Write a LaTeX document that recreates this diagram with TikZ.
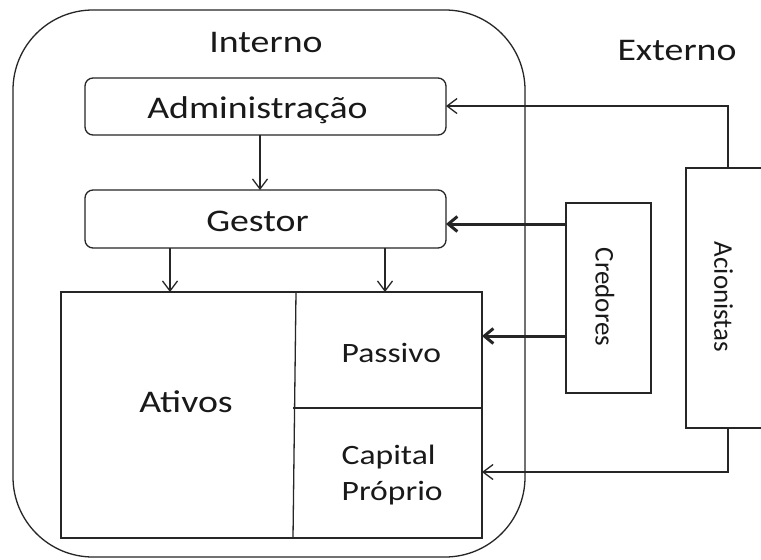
\documentclass[tikz,border=0pt]{standalone}
\usepackage{fontspec}
\setmainfont{Carlito}[FakeStretch=1.2]
\newfontfamily\vertfont{Carlito}
\usetikzlibrary{arrows.meta}
\begin{document}
\begin{tikzpicture}[x=1pt,y=-1pt,
  line width=1.3pt,
  color=black!85,
  box/.style={draw,line width=1.3pt,inner sep=0pt,outer sep=0pt},
  roundbox/.style={box,rounded corners=8pt},
  lbl/.style={inner sep=0pt,anchor=base,text=black!90,font=\fontsize{31.5}{36}\selectfont},
  lblsmall/.style={inner sep=0pt,anchor=base,text=black!90,align=left,font=\fontsize{28}{36}\selectfont},
  lblvert/.style={inner sep=0pt,rotate=-90,text=black!90,font=\vertfont\fontsize{27}{32}\selectfont},
  arr/.style={-{Straight Barb[length=10pt,width=15pt,line width=1.3pt]}},
  thickarr/.style={line width=3pt,-{Straight Barb[length=9pt,width=15pt,line width=3pt]}}]

\useasboundingbox (0,0) rectangle (761,560);
\fill[white] (0,0) rectangle (761,560);

% internal area
\node[box,rounded corners=80pt,minimum width=512pt,minimum height=547pt] (interno) at (269,283.5) {};
\node[lbl] (tinterno) at (266,52) {Interno};
\node[lbl] (texterno) at (677,60) {Externo};

% management boxes
\node[roundbox,minimum width=361pt,minimum height=57pt] (admin) at (265.5,106.5) {};
\node[lbl] (tadmin) at (257.5,118) {Administração};
\node[roundbox,minimum width=361pt,minimum height=58pt] (gestor) at (265.5,219) {};
\node[lbl] (tgestor) at (257.5,231) {Gestor};

% balance sheet
\node[box,minimum width=421pt,minimum height=246pt] (balanco) at (271.5,415) {};
\coordinate (divtop) at (296,292);
\coordinate (divbot) at (293,538);
\coordinate (divmid) at (293,408);
\draw (divtop) -- (divbot);
\draw (divmid) -- (divmid -| balanco.east);
\node[lbl] (tativos) at (186,412) {Ativos};
\node[lblsmall,anchor=base west] (tpassivo) at (341,362) {Passivo};
\node[lblsmall,anchor=base west] (tcapital) at (341,500) {Capital\\Próprio};

% external parties
\node[box,minimum width=85pt,minimum height=190pt] (credores) at (608.5,298) {};
\node[lblvert] (tcredores) at (605,297) {Credores};
\begin{scope}
  \clip (0,0) rectangle (761,560);
  \node[box,minimum width=84pt,minimum height=260pt] (acionistas) at (728,298) {};
\end{scope}
\node[lblvert] (tacionistas) at (723.5,297) {Acionistas};

% connector columns and rows
\coordinate (colA) at (260,0);
\coordinate (colB) at (170,0);
\coordinate (colC) at (385,0);
\coordinate (rowG) at (0,224);
\coordinate (rowP) at (0,336);
\coordinate (rowAd) at (0,106);
\coordinate (rowCp) at (0,472);

\draw[arr] (admin.south -| colA) -- (gestor.north -| colA);
\draw[arr] (gestor.south -| colB) -- (balanco.north -| colB);
\draw[arr] (gestor.south -| colC) -- (balanco.north -| colC);

\draw[thickarr] (credores.west |- rowG) -- (gestor.east |- rowG);
\draw[thickarr] (credores.west |- rowP) -- (balanco.east |- rowP);

\draw[arr] (acionistas.north) -- (acionistas.north |- rowAd) -- (admin.east |- rowAd);
\draw[arr] (acionistas.south) -- (acionistas.south |- rowCp) -- (balanco.east |- rowCp);
\end{tikzpicture}
\end{document}
